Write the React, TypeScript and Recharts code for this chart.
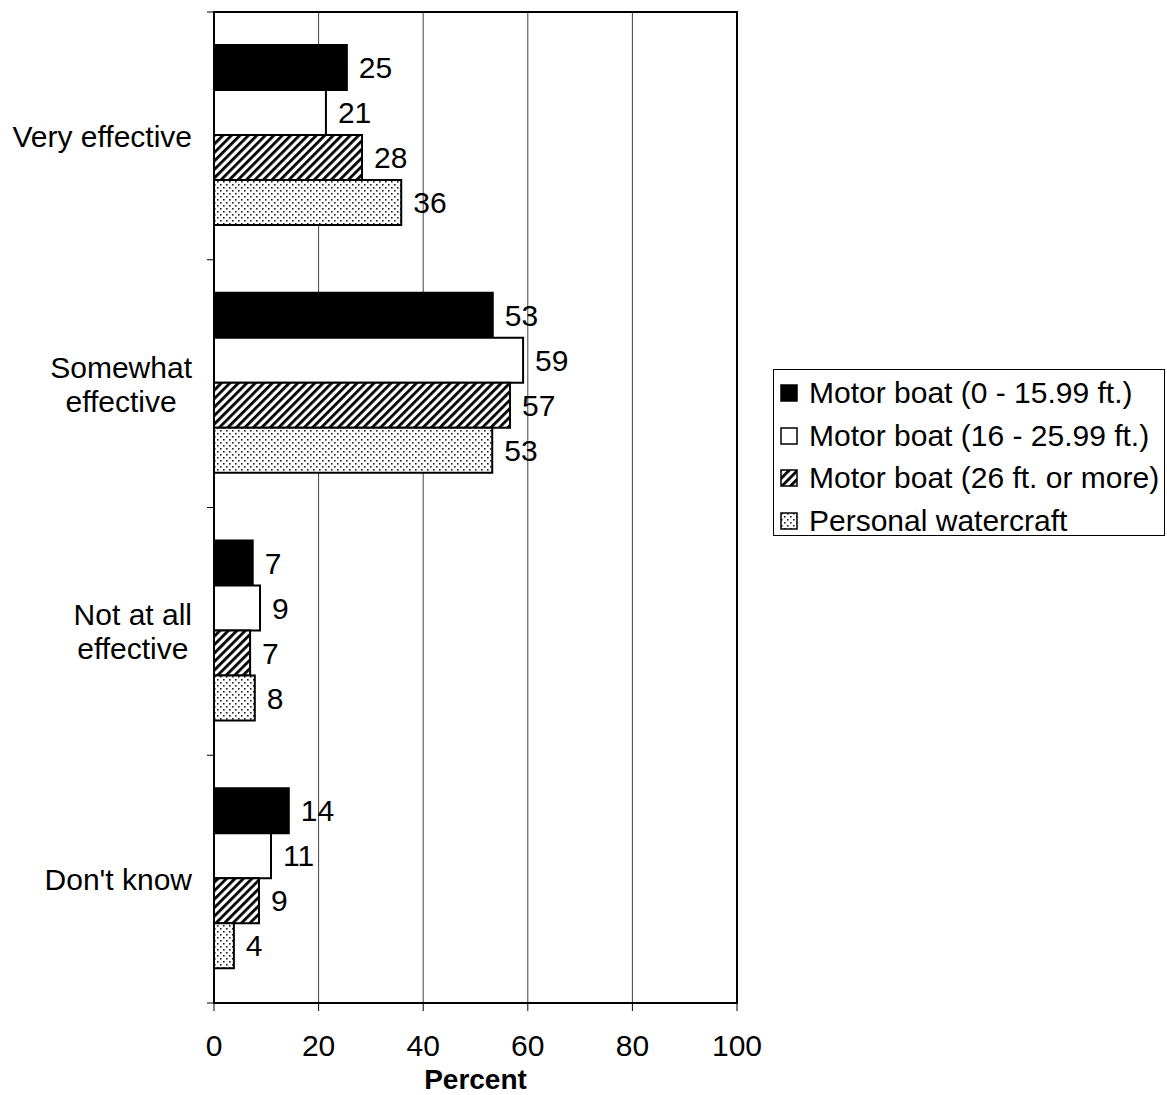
import React from "react";
import {
  Bar,
  BarChart,
  CartesianGrid,
  LabelList,
  ReferenceArea,
  XAxis,
  YAxis,
} from "recharts";

const categories = [
  "Very effective",
  "Somewhat\neffective",
  "Not at all\neffective",
  "Don't know",
];

const seriesNames = [
  "Motor boat (0 - 15.99 ft.)",
  "Motor boat (16 - 25.99 ft.)",
  "Motor boat (26 ft. or more)",
  "Personal watercraft",
];

const small = [25.4, 53.3, 7.4, 14.3];
const medium = [21.4, 59.1, 8.8, 10.9];
const large = [28.3, 56.6, 6.9, 8.6];
const pwc = [35.8, 53.2, 7.8, 3.8];

const xTicks = [0, 20, 40, 60, 80, 100];

const keys = ["small", "medium", "large", "pwc"];
const fills = ["#000", "#fff", "url(#hatch)", "url(#dots)"];

const data = categories.map((name, i) => ({
  name,
  small: small[i],
  medium: medium[i],
  large: large[i],
  pwc: pwc[i],
}));

const FONT = "'Liberation Sans', Arial, sans-serif";
const FS = 30;

const W = 1167;
const H = 1095;
const PLOT_TOP = 12;
const PLOT_BOTTOM = 1003;
const PLOT_LEFT = 214;
const PLOT_RIGHT = 737;
const BAND = (PLOT_BOTTOM - PLOT_TOP) / categories.length;

let ctx: CanvasRenderingContext2D | null = null;
const measure = (s: string) => {
  if (!ctx) ctx = document.createElement("canvas").getContext("2d");
  if (!ctx) return s.length * FS * 0.5;
  ctx.font = `${FS}px ${FONT}`;
  return ctx.measureText(s).width;
};

const CategoryTick = (props: any) => {
  const { y, payload, index } = props;
  const lines = String(payload.value).split("\n");
  const right = 192;
  const lh = 34;
  const maxW = Math.max(...lines.map(measure));
  const cx = right - maxW / 2;
  const y0 = y - ((lines.length - 1) * lh) / 2;
  return (
    <g>
      <line x1={PLOT_LEFT - 7} x2={PLOT_LEFT} y1={y - BAND / 2} y2={y - BAND / 2} stroke="#000" strokeWidth={1} />
      {index === categories.length - 1 && (
        <line x1={PLOT_LEFT - 7} x2={PLOT_LEFT} y1={y + BAND / 2} y2={y + BAND / 2} stroke="#000" strokeWidth={1} />
      )}
      <text
        x={lines.length > 1 ? cx : right}
        y={y0}
        textAnchor={lines.length > 1 ? "middle" : "end"}
        dominantBaseline="central"
        fontFamily={FONT}
        fontSize={FS}
        fill="#000"
      >
        {lines.map((l, i) => (
          <tspan key={i} x={lines.length > 1 ? cx : right} dy={i === 0 ? 0 : lh}>
            {l}
          </tspan>
        ))}
      </text>
    </g>
  );
};

const XTick = (props: any) => {
  const { x, payload } = props;
  return (
    <text x={x} y={1056} textAnchor="middle" fontFamily={FONT} fontSize={FS} fill="#000">
      {payload.value}
    </text>
  );
};

const Marker = ({ fill }: { fill: string }) => (
  <svg width={18} height={18} style={{ display: "block" }}>
    <rect x={1} y={1} width={16} height={16} fill={fill} stroke="#000" strokeWidth={1.5} />
  </svg>
);

export default function App() {
  return (
    <div style={{ position: "absolute", left: 0, top: 0, width: W, height: H, background: "#fff" }}>
      <BarChart
        width={W}
        height={H}
        data={data}
        layout="vertical"
        margin={{ top: PLOT_TOP, right: W - PLOT_RIGHT, bottom: 0, left: 0 }}
        barCategoryGap={33}
        barGap={0}
      >
        <defs>
          <pattern id="hatch" width={6} height={6} patternUnits="userSpaceOnUse" patternTransform="rotate(45)">
            <rect width={6} height={6} fill="#fff" />
            <rect x={0} y={0} width={2.8} height={6} fill="#000" />
          </pattern>
          <pattern id="dots" width={6} height={6} patternUnits="userSpaceOnUse">
            <rect width={6} height={6} fill="#fff" />
            <rect x={1} y={1} width={1.6} height={1.6} fill="#222" />
            <rect x={4} y={4} width={1.6} height={1.6} fill="#222" />
          </pattern>
        </defs>
        <CartesianGrid horizontal={false} stroke="#444" strokeWidth={1} />
        <XAxis
          type="number"
          domain={[0, 100]}
          ticks={xTicks}
          interval={0}
          height={H - PLOT_BOTTOM}
          tickSize={8}
          tick={<XTick />}
          axisLine={{ stroke: "#000", strokeWidth: 2 }}
          tickLine={{ stroke: "#000" }}
        />
        <YAxis
          type="category"
          dataKey="name"
          width={PLOT_LEFT}
          tickLine={false}
          tick={<CategoryTick />}
          axisLine={{ stroke: "#000", strokeWidth: 2 }}
        />
        {keys.map((k, i) => (
          <Bar
            key={k}
            dataKey={k}
            name={seriesNames[i]}
            fill={fills[i]}
            stroke="#000"
            strokeWidth={2}
            isAnimationActive={false}
          >
            <LabelList
              dataKey={k}
              position="right"
              offset={12}
              formatter={(v: any) => Math.round(Number(v))}
              fontFamily={FONT}
              fontSize={FS}
              fill="#000"
            />
          </Bar>
        ))}
        <ReferenceArea x1={0} x2={100} fill="none" stroke="#000" strokeWidth={2} fillOpacity={0} />
        <text
          x={(PLOT_LEFT + PLOT_RIGHT) / 2}
          y={1089}
          textAnchor="middle"
          fontFamily={FONT}
          fontSize={28}
          fontWeight="bold"
          fill="#000"
        >
          Percent
        </text>
      </BarChart>
      <div
        style={{
          position: "absolute",
          left: 773,
          top: 369,
          width: 392,
          height: 167,
          border: "1px solid #000",
          boxSizing: "border-box",
          fontFamily: FONT,
          fontSize: FS,
          color: "#000",
          paddingTop: 2,
        }}
      >
        {seriesNames.map((n, i) => (
          <div key={n} style={{ display: "flex", alignItems: "center", height: 42.5, paddingLeft: 6, whiteSpace: "nowrap" }}>
            <Marker fill={fills[i]} />
            <span style={{ marginLeft: 11 }}>{n}</span>
          </div>
        ))}
      </div>
    </div>
  );
}
